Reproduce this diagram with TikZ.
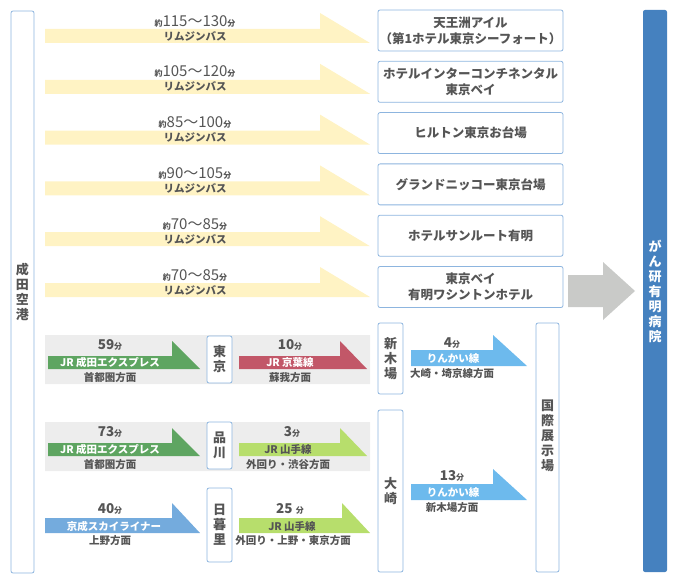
\documentclass[tikz,border=0pt]{standalone}
\usepackage{fontspec}
\setmainfont{Noto Sans CJK JP}
\definecolor{busyellow}{HTML}{FFF3C4}
\definecolor{boxblue}{HTML}{8DB5DF}
\definecolor{barblue}{HTML}{4581BF}
\definecolor{arrowgray}{HTML}{C9CAC8}
\definecolor{bggray}{HTML}{EDEDED}
\definecolor{nexgreen}{HTML}{5EA561}
\definecolor{keiyored}{HTML}{C25768}
\definecolor{yamagreen}{HTML}{B7DE6C}
\definecolor{keisei}{HTML}{74ABDD}
\definecolor{rinkai}{HTML}{6DBAED}
\definecolor{textgray}{HTML}{555555}
\newcommand{\yaku}{{\fontsize{8}{8}\selectfont\bfseries 約}}
\newcommand{\bun}{{\fontsize{8}{8}\selectfont\bfseries 分}}
\begin{document}
\begin{tikzpicture}[x=1pt,y=-1pt,font=\bfseries,line join=round,
  txt/.style={text=textgray,inner sep=0pt},
  lbl/.style={txt,font=\fontsize{10.5}{10.5}\selectfont\bfseries},
  wlbl/.style={lbl,text=white},
  num/.style={txt,font=\fontsize{13.5}{13.5}\selectfont\bfseries},
  box/.style={draw=boxblue,line width=0.8pt,rounded corners=2pt,fill=white,inner sep=0pt},
  vtxt/.style={txt,font=\fontsize{13}{15}\selectfont\bfseries,align=center}]
\useasboundingbox (0,0) rectangle (678,583);
% airport
\node[box,minimum width=23pt,minimum height=562pt] (narita) at (22.5,292) {};
\node[vtxt] (naritatxt) at (narita) {成\\田\\空\\港};
% limousine buses
\foreach \t/\i in {115～130/0,105～120/1,85～100/2,90～105/3,70～85/4,70～85/5}{
  \pgfmathsetmacro\yb{43+50.8*\i}
  \fill[busyellow] (45,\yb) -- (45,\yb-14) -- (320,\yb-14) -- (320,\yb-30) -- (370,\yb) -- cycle;
  \node[txt,font=\fontsize{15}{15}\selectfont] (bustime\i) at (195,\yb-22) {\yaku\t\bun};
  \node[lbl] (bus\i) at (195,\yb-7) {リムジンバス};
}
\foreach \h [count=\i from 0] in {{天王洲アイル\\（第1ホテル東京シーフォート）},{ホテルインターコンチネンタル\\東京ベイ},{ヒルトン東京お台場},{グランドニッコー東京台場},{ホテルサンルート有明},{東京ベイ\\有明ワシントンホテル}}
  \node[box,txt,minimum width=185pt,minimum height=41pt,align=center,font=\fontsize{12.5}{16}\selectfont\bfseries] (hotel\i) at (470.5,30.5+51.3*\i) {\h};
% trains
\fill[bggray] (45,335) rectangle (370,384) (45,422) rectangle (370,471);
\foreach \xa/\xb/\xt/\ys/\ye/\col in {48/172/200/356/369/nexgreen,239/340/367/356/369/keiyored,
  48/172/200/443/456/nexgreen,239/340/367/443/456/yamagreen,45/172/200/518/533/keisei,
  239/342/370/518/533/yamagreen,411/493/527/350/366/rinkai,411/493/527/484/500/rinkai}
  \fill[\col] (\xa,\ys) -- (\xb,\ys) -- (\xb,\ys-15) -- (\xt,\ye) -- (\xa,\ye) -- cycle;
\node[box,vtxt,minimum width=25pt,minimum height=47pt] (tokyo) at (219.5,359.5) {東\\京};
\node[box,vtxt,minimum width=25pt,minimum height=47pt] (shinagawa) at (219.5,445.5) {品\\川};
\node[box,vtxt,minimum width=25pt,minimum height=74pt] (nippori) at (219.5,525) {日\\暮\\里};
\node[num] (t59) at (110,345) {59\bun};
\node[wlbl] (nex1) at (110,362.5) {JR 成田エクスプレス};
\node[lbl] (dir1) at (110,378) {首都圏方面};
\node[num] (t10) at (290,345) {10\bun};
\node[wlbl] (keiyo) at (290,362.5) {JR 京葉線};
\node[lbl] (dir2) at (290,378) {蘇我方面};
\node[num] (t73) at (110,432) {73\bun};
\node[wlbl] (nex2) at (110,449.5) {JR 成田エクスプレス};
\node[lbl] (dir3) at (110,465) {首都圏方面};
\node[num] (t3) at (292,432) {3\bun};
\node[lbl] (yama1) at (288,449.5) {JR 山手線};
\node[lbl] (dir4) at (288,465) {外回り・渋谷方面};
\node[num] (t40) at (110,509) {40\bun};
\node[wlbl] (skyliner) at (114,526) {京成スカイライナー};
\node[lbl] (dir5) at (110,541) {上野方面};
\node[num] (t25) at (290,509) {25 \bun};
\node[lbl] (yama2) at (292,526) {JR 山手線};
\node[lbl] (dir6) at (293,541) {外回り・上野・東京方面};
% rinkai line
\node[box,vtxt,minimum width=25pt,minimum height=71pt] (shinkiba) at (390.5,358.5) {新\\木\\場};
\node[box,vtxt,minimum width=25pt,minimum height=162pt] (osaki) at (390.5,491) {大\\崎};
\node[box,minimum width=23pt,minimum height=249pt] (kokusai) at (547.5,447.5) {};
\node[vtxt] (kokusaitxt) at (547.5,436) {国\\際\\展\\示\\場};
\node[num] (t4) at (452,343) {4\bun};
\node[wlbl] (rinkai1) at (453,358) {りんかい線};
\node[lbl] (dir7) at (452,374) {大崎・埼京線方面};
\node[num] (t13) at (452,476) {13\bun};
\node[wlbl] (rinkai2) at (453,492) {りんかい線};
\node[lbl] (dir8) at (452,508) {新木場方面};
% hospital
\fill[arrowgray] (568,275) -- (603,275) -- (603,262) -- (635,291) -- (603,320) -- (603,307) -- (568,307) -- cycle;
\node[fill=barblue,rounded corners=2pt,minimum width=24pt,minimum height=562pt,inner sep=0pt] (hospital) at (655,291) {};
\node[vtxt,text=white] (hospitaltxt) at (hospital) {が\\ん\\研\\有\\明\\病\\院};
\end{tikzpicture}
\end{document}
